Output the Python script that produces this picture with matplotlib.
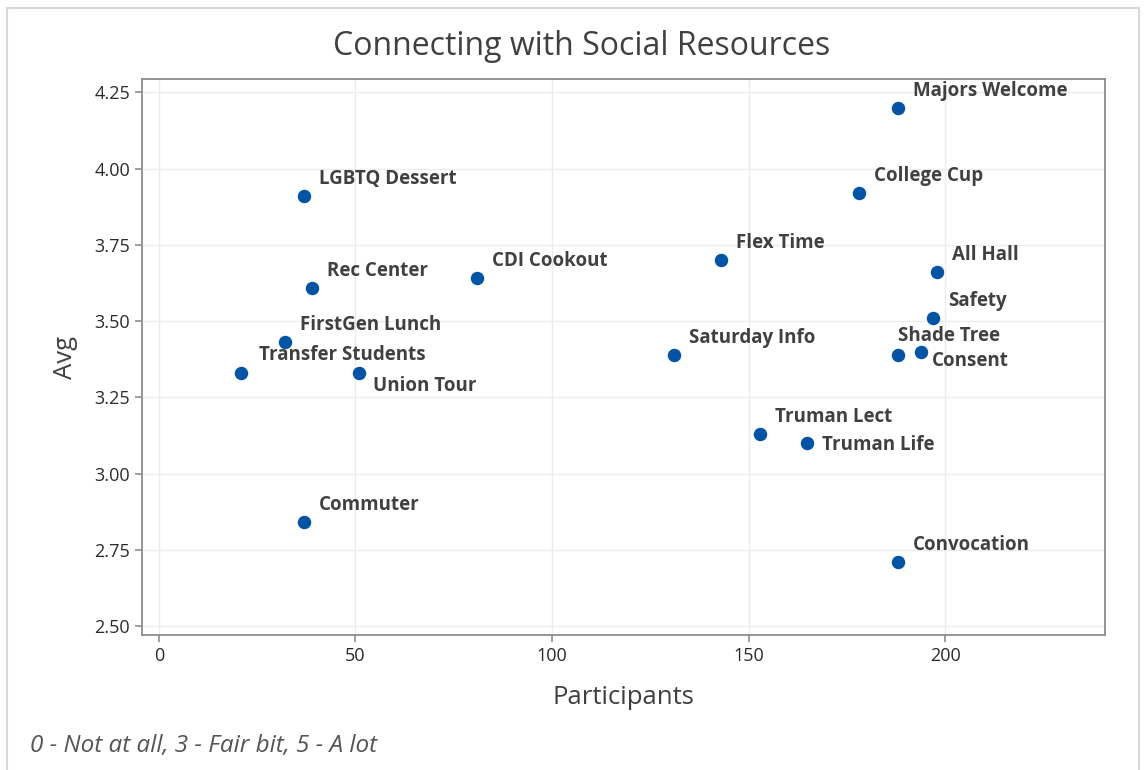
import matplotlib
matplotlib.use("Agg")
import matplotlib.pyplot as plt
from matplotlib.patches import Rectangle

plt.rcParams['font.family'] = ['Open Sans', 'DejaVu Sans']

# data
events = ["Majors Welcome", "College Cup", "LGBTQ Dessert", "Flex Time", "All Hall",
          "CDI Cookout", "Rec Center", "Safety", "FirstGen Lunch", "Shade Tree",
          "Consent", "Saturday Info", "Transfer Students", "Union Tour",
          "Truman Lect", "Truman Life", "Commuter", "Convocation"]
participants = [188, 178, 37, 143, 198, 81, 39, 197, 32, 188, 194, 131, 21, 51, 153, 165, 37, 188]
avg = [4.20, 3.92, 3.91, 3.70, 3.66, 3.64, 3.61, 3.51, 3.43, 3.39, 3.40, 3.39, 3.33, 3.33,
       3.13, 3.10, 2.84, 2.71]

# label offsets in pixels (default up-right)
offsets = {"Union Tour": (14, -13), "Truman Life": (15, -2), "Consent": (10, -9),
           "Shade Tree": (0, 19), "Transfer Students": (18, 18)}

fig = plt.figure(figsize=(11.44, 7.70), dpi=100)
fig.patches.append(Rectangle((0.006, -0.01), 0.99, 1.0, transform=fig.transFigure,
                             fill=False, edgecolor="#d9d9d9", lw=1.5))
ax = fig.add_axes([0.124, 0.175, 0.842, 0.722])

ax.scatter(participants, avg, s=75, color="#0054A6", zorder=3)
for name, x, y in zip(events, participants, avg):
    dx, dy = offsets.get(name, (15, 17))
    ax.annotate(name, (x, y), xytext=(dx, dy), textcoords="offset pixels",
                ha="left", va="center", fontsize=13.5, fontweight="bold", color="#404040")

ax.set_xlim(-4.3, 240.7)
ax.set_ylim(2.47, 4.293)
ax.set_xticks([0, 50, 100, 150, 200])
ax.set_yticks([2.50, 2.75, 3.00, 3.25, 3.50, 3.75, 4.00, 4.25])
ax.set_yticklabels(["2.50", "2.75", "3.00", "3.25", "3.50", "3.75", "4.00", "4.25"])
ax.grid(True, color="#ececec", lw=1)
ax.set_axisbelow(True)
for s in ax.spines.values():
    s.set_color("#8c8c8c")
    s.set_linewidth(1.3)
ax.tick_params(colors="#8c8c8c", labelcolor="#2b2b2b", labelsize=13, length=5, width=1.2)

ax.set_xlabel("Participants", fontsize=18.5, color="#404040", labelpad=14)
ax.set_ylabel("Avg", fontsize=18.5, color="#404040", labelpad=12)
fig.text(0.508, 0.94, "Connecting with Social Resources", ha="center", va="center",
         fontsize=23, color="#404040")
fig.text(0.026, 0.031, "0 - Not at all, 3 - Fair bit, 5 - A lot", ha="left", va="center",
         fontsize=17.5, style="italic", color="#555555")

fig.savefig("out.png", dpi=100)
